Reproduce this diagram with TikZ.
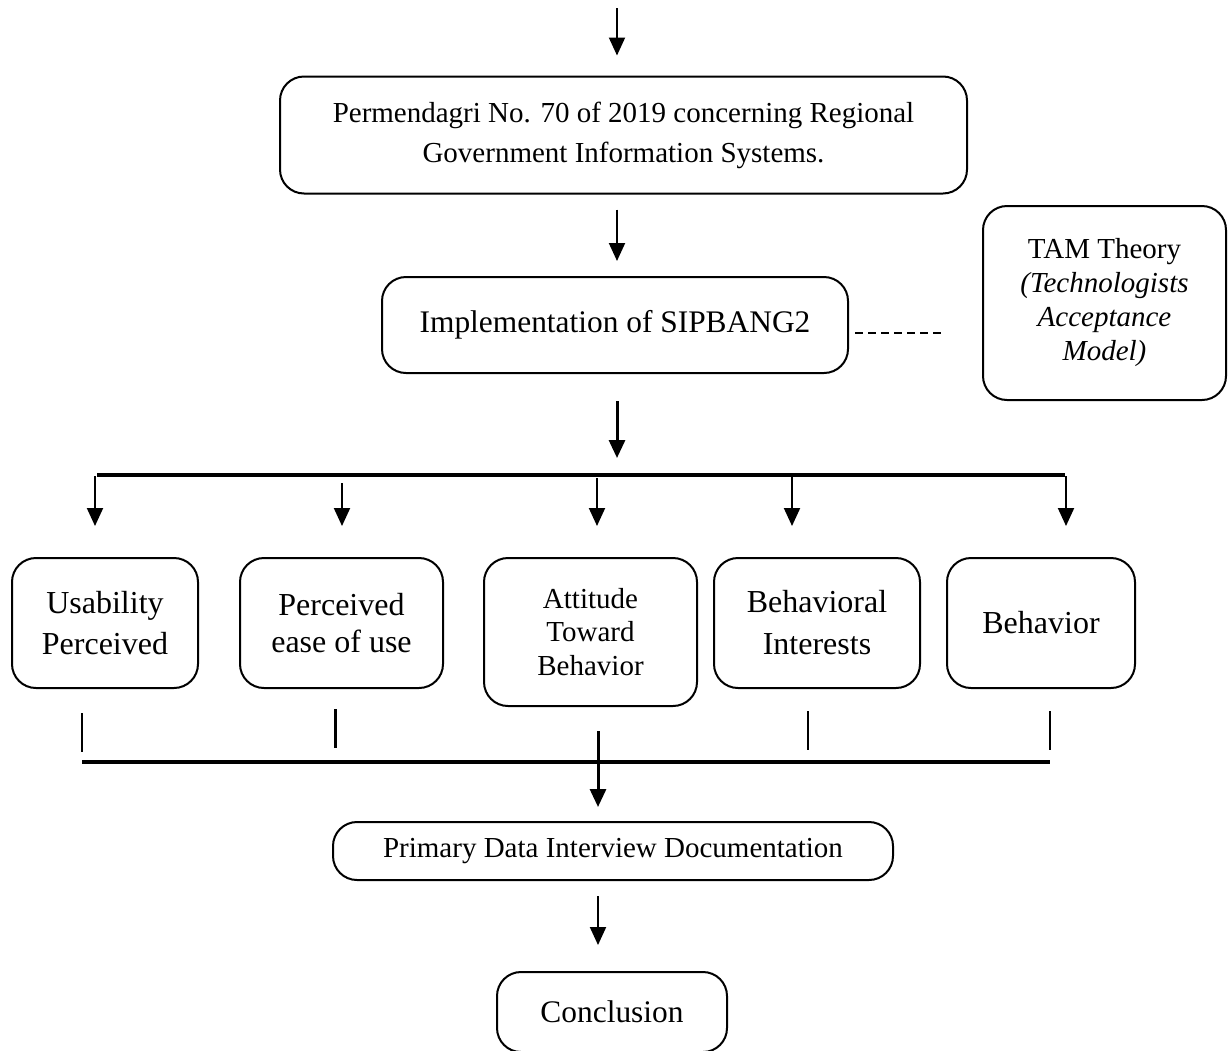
\documentclass[tikz,border=0pt]{standalone}
\usepackage{fontspec}
\setmainfont{Liberation Serif}
\usetikzlibrary{arrows.meta}

\begin{document}
\begin{tikzpicture}[x=0.5pt,y=-0.5pt]
		\tikzset{box/.style = {draw, rounded corners=12pt, line width=1pt, align=center, inner sep=2pt},
			arr/.style = {-{Triangle[length=9pt,width=8pt]}, line width=1pt},
			bar/.style = {line width=1.8pt},
			tick/.style = {line width=1.2pt}}

		\useasboundingbox (0,0) rectangle (1230,1050);

		\node[box, minimum width=343.5pt, minimum height=58.5pt, font=\fontsize{14.5}{20}\selectfont] (P_1) at (623.5,135) {Permendagri No. 70 of 2019 concerning Regional\\Government Information Systems.};
		\node[box, minimum width=233pt, minimum height=48pt, font=\fontsize{15.7}{19}\selectfont] (I_1) at (615,325) {Implementation of SIPBANG2};
		\node[box, minimum width=121.5pt, minimum height=97pt, font=\fontsize{14.5}{17}\selectfont] (T_1) at (1104.5,303) {TAM Theory\\\textit{(Technologists}\\\textit{Acceptance}\\\textit{Model)}};

		\node[box, minimum width=93pt, minimum height=65pt, font=\fontsize{16}{20.5}\selectfont] (U_1) at (105,623) {Usability\\Perceived};
		\node[box, minimum width=101.5pt, minimum height=65pt, font=\fontsize{16}{18.5}\selectfont] (U_2) at (341.5,623) {Perceived\\ease of use};
		\node[box, minimum width=106.5pt, minimum height=74pt, font=\fontsize{14.5}{16.7}\selectfont] (U_3) at (590.5,632) {Attitude\\Toward\\Behavior};
		\node[box, minimum width=103pt, minimum height=65pt, font=\fontsize{16}{21}\selectfont] (U_4) at (817,623) {Behavioral\\Interests};
		\node[box, minimum width=94pt, minimum height=65pt, font=\fontsize{16}{20}\selectfont] (U_5) at (1041,623) {Behavior};

		\node[box, minimum width=280pt, minimum height=29pt, font=\fontsize{14.5}{16}\selectfont] (Q_1) at (613,851) {Primary Data Interview Documentation};
		\node[box, minimum width=115pt, minimum height=40pt, font=\fontsize{15.7}{19}\selectfont] (C_1) at (612,1012) {Conclusion};

		\coordinate (c_1) at (617,0);
		\coordinate (c_2) at (598,0);
		\coordinate (T_0) at (617,8);

		%arrows down the middle
		\draw[arr] (T_0) -- ([yshift=10pt]P_1.north -| c_1);
		\draw[arr, shorten <=7.5pt, shorten >=7.5pt] (P_1.south -| c_1) -- (I_1.north -| c_1);
		\draw[arr, line width=1.5pt, shorten <=13.5pt, shorten >=8.5pt] (I_1.south -| c_1) -- (617,475);

		\draw[dash pattern=on 4pt off 2.5pt, line width=0.8pt] (855,333) coordinate (d_1) -- (945,333) coordinate (d_2);

		%upper bar
		\coordinate (B_1) at (97,475);
		\coordinate (B_2) at (1065,475);
		\draw[bar] (B_1) -- (B_2);

		\coordinate (A_1) at (95,476);
		\coordinate (A_2) at (342,483);
		\coordinate (A_3) at (597,478);
		\coordinate (A_4) at (792,476);
		\coordinate (A_5) at (1066,476);
		\foreach \i in {1,...,5}
			\draw[arr, shorten >=15.5pt] (A_\i) -- (U_\i.north -| A_\i);

		%lower bar
		\coordinate (D_1) at (82,752);
		\coordinate (D_2) at (335,748);
		\coordinate (D_4) at (808,750);
		\coordinate (D_5) at (1050,750);
		\draw[tick, line width=0.8pt, shorten <=12pt] (U_1.south -| D_1) -- (D_1);
		\draw[tick, line width=1.5pt, shorten <=10pt] (U_2.south -| D_2) -- (D_2);
		\draw[tick, shorten <=11pt] (U_4.south -| D_4) -- (D_4);
		\draw[tick, shorten <=11pt] (U_5.south -| D_5) -- (D_5);

		\coordinate (E_1) at (82,762);
		\coordinate (E_2) at (1050,762);
		\draw[bar] (E_1) -- (E_2);

		\draw[arr, line width=1.5pt, shorten <=12pt, shorten >=7pt] (U_3.south -| c_2) -- (Q_1.north -| c_2);
		\draw[arr, shorten <=7.5pt, shorten >=13pt] (Q_1.south -| c_2) -- (C_1.north -| c_2);

	\end{tikzpicture}
\end{document}
